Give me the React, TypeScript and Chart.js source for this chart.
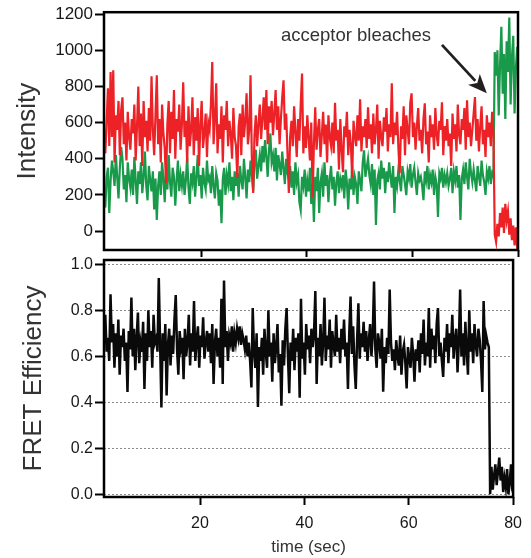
import React, { useEffect, useRef } from "react";
import { Chart, registerables } from "chart.js";

Chart.register(...registerables);

// Sampling of the recorded traces
const T0 = 1.6; // time of first frame (sec)
const DT = 0.25; // frame interval (sec)

// Acceptor (red) intensity per frame
const acceptorRed = [
  560, 430, 610, 790, 470, 880, 520, 890, 380, 640, 560, 720, 420, 670, 740, 480, 600, 390, 660, 520,
  450, 620, 540, 700, 390, 580, 800, 470, 650, 360, 720, 520, 610, 440, 680, 500, 856, 560, 420, 640,
  862, 480, 620, 380, 700, 540, 460, 265, 590, 720, 430, 660, 510, 780, 400, 620, 550, 700, 450, 590,
  823, 520, 610, 380, 690, 470, 560, 740, 420, 630, 500, 680, 360, 590, 720, 460, 540, 650, 410, 600,
  560, 700, 935, 480, 620, 818, 430, 590, 510, 690, 380, 640, 560, 720, 470, 610, 540, 400, 680, 520,
  470, 293, 580, 650, 420, 700, 520, 610, 762, 480, 560, 862, 400, 210, 530, 640, 470, 590, 700, 510,
  620, 740, 560, 780, 480, 690, 600, 720, 530, 650, 780, 560, 690, 480, 620, 740, 834, 560, 650, 430,
  210, 520, 610, 470, 690, 550, 410, 620, 500, 700, 872, 430, 580, 460, 640, 520, 390, 600, 188, 480,
  685, 450, 560, 620, 410, 530, 660, 480, 590, 380, 640, 520, 470, 600, 430, 710, 500, 560, 340, 620,
  450, 326, 580, 520, 660, 420, 560, 480, 298, 610, 530, 470, 640, 500, 729, 440, 580, 520, 620, 460,
  685, 510, 590, 430, 650, 480, 560, 700, 400, 610, 520, 470, 630, 550, 680, 440, 590, 520, 818, 480,
  600, 530, 660, 460, 320, 580, 510, 690, 420, 640, 560, 480, 710, 762, 520, 600, 450, 580, 680, 500,
  560, 430, 620, 707, 480, 550, 380, 640, 520, 590, 450, 680, 530, 470, 610, 560, 713, 420, 580, 500,
  620, 470, 540, 360, 650, 510, 590, 440, 700, 530, 480, 620, 560, 680, 450, 724, 520, 600, 470, 560,
  650, 741, 500, 620, 440, 580, 690, 480, 560, 410, 640, 520, 600, 470, 660, 541,
  -20, -60, 40, -30, 100, 20, 130, -10, 150, 60, 110, -20, 70, -50, 30, -80, 20, -90, -40,
];

// Donor (green) intensity per frame
const donorGreen = [
  210, 130, 300, 350, 100, 280, 390, 330, 250, 420, 300, 180, 350, 464, 400, 230, 310, 160, 380, 290,
  240, 340, 200, 410, 280, 150, 330, 260, 380, 210, 300, 440, 250, 170, 360, 280, 220, 330, 120, 290,
  61, 250, 330, 200, 380, 290, 160, 340, 230, 420, 270, 190, 350, 300, 140, 280, 390, 220, 310, 250,
  330, 200, 280, 410, 240, 150, 320, 270, 360, 190, 300, 420, 250, 310, 180, 350, 270, 230, 390, 280,
  300, 210, 360, 250, 180, 320, 280, 140, 230, 43, 290, 350, 200, 310, 260, 380, 220, 300, 170, 330,
  250, 320, 190, 360, 280, 230, 400, 300, 180, 340, 270, 390, 310, 220, 380, 450, 290, 360, 420, 330,
  470, 380, 503, 410, 300, 450, 540, 380, 420, 330, 460, 280, 420, 370, 310, 440, 350, 260, 400, 320,
  290, 360, 240, 330, 200, 380, 270, 310, 160, 116, 300, 250, 340, 190, 280, 220, 350, 150, 260, 50,
  300, 220, 350, 100, 270, 320, 190, 380, 250, 310, 160, 290, 360, 230, 300, 140, 270, 330, 210, 290,
  250, 310, 180, 340, 270, 120, 290, 230, 360, 200, 300, 260, 150, 330, 280, 220, 380, 447, 300, 350,
  400, 310, 260, 370, 200, 340, 33, 280, 320, 230, 390, 290, 350, 210, 330, 270, 380, 300, 240, 360,
  100, 300, 250, 340, 280, 220, 360, 310, 260, 199, 330, 290, 370, 240, 310, 350, 270, 200, 320, 280,
  300, 250, 171, 330, 280, 360, 230, 310, 270, 340, 200, 300, 260, 78, 320, 290, 350, 240, 310, 270,
  320, 250, 290, 350, 210, 330, 280, 360, 240, 310, 61, 290, 340, 260, 380, 300, 230, 400, 320, 270,
  340, 280, 220, 360, 300, 250, 390, 310, 270, 200, 330, 290, 360, 260, 320, 300,
  990, 860, 1000, 640, 920, 1130, 760, 980, 620, 1050, 880, 1182, 700, 960, 1080, 650, 900, 1020, 920,
];

// FRET efficiency per frame
const fretEfficiency = [
  0.72, 0.78, 0.62, 0.68, 0.58, 0.87, 0.66, 0.74, 0.55, 0.70, 0.60, 0.76, 0.52, 0.69, 0.64, 0.72, 0.58, 0.66, 0.445, 0.71,
  0.63, 0.855, 0.60, 0.72, 0.54, 0.68, 0.79, 0.57, 0.66, 0.62, 0.75, 0.458, 0.70, 0.58, 0.80, 0.64, 0.71, 0.55, 0.78, 0.66,
  0.68, 0.62, 0.94, 0.66, 0.377, 0.70, 0.58, 0.74, 0.43, 0.65, 0.72, 0.56, 0.69, 0.61, 0.76, 0.866, 0.63, 0.52, 0.71, 0.64,
  0.68, 0.50, 0.72, 0.60, 0.66, 0.78, 0.56, 0.70, 0.62, 0.84, 0.58, 0.67, 0.73, 0.55, 0.69, 0.64, 0.77, 0.59, 0.66, 0.71,
  0.62, 0.70, 0.57, 0.74, 0.48, 0.66, 0.72, 0.60, 0.68, 0.55, 0.85, 0.48, 0.93, 0.64, 0.71, 0.58, 0.69, 0.66, 0.73, 0.62,
  0.70, 0.66, 0.72, 0.68, 0.73, 0.65, 0.70, 0.67, 0.63, 0.69, 0.60, 0.66, 0.58, 0.465, 0.81, 0.62, 0.55, 0.70, 0.38, 0.64,
  0.58, 0.68, 0.52, 0.72, 0.62, 0.55, 0.80, 0.60, 0.66, 0.49, 0.70, 0.57, 0.64, 0.74, 0.53, 0.61, 0.385, 0.67, 0.56, 0.72,
  0.81, 0.60, 0.44, 0.66, 0.58, 0.72, 0.54, 0.68, 0.62, 0.70, 0.42, 0.85, 0.59, 0.66, 0.52, 0.74, 0.63, 0.69, 0.57, 0.72,
  0.64, 0.70, 0.884, 0.48, 0.68, 0.60, 0.74, 0.56, 0.66, 0.855, 0.58, 0.69, 0.63, 0.76, 0.55, 0.71, 0.65, 0.60, 0.78, 0.62,
  0.68, 0.57, 0.72, 0.63, 0.76, 0.60, 0.66, 0.458, 0.70, 0.86, 0.61, 0.73, 0.56, 0.458, 0.67, 0.83, 0.59, 0.70, 0.64, 0.75,
  0.62, 0.71, 0.58, 0.67, 0.74, 0.60, 0.69, 0.925, 0.63, 0.55, 0.70, 0.66, 0.59, 0.72, 0.446, 0.64, 0.57, 0.68, 0.61, 0.89,
  0.66, 0.58, 0.63, 0.54, 0.67, 0.60, 0.56, 0.69, 0.52, 0.62, 0.65, 0.57, 0.46, 0.64, 0.59, 0.55, 0.68, 0.61, 0.49, 0.63,
  0.58, 0.67, 0.53, 0.70, 0.61, 0.76, 0.56, 0.66, 0.60, 0.81, 0.55, 0.72, 0.63, 0.69, 0.57, 0.74, 0.81, 0.60, 0.66, 0.58,
  0.51, 0.68, 0.62, 0.74, 0.57, 0.70, 0.64, 0.78, 0.59, 0.67, 0.72, 0.53, 0.66, 0.89, 0.60, 0.70, 0.56, 0.75, 0.63, 0.52,
  0.80, 0.62, 0.70, 0.57, 0.74, 0.65, 0.60, 0.72, 0.67, 0.58, 0.445, 0.84, 0.63, 0.69, 0.66, 0.64,
  0.00, 0.12, 0.02, 0.08, 0.13, 0.04, 0.10, 0.16, 0.06, 0.12, 0.01, 0.07, 0.03, 0.11, 0.00, 0.05, 0.13, 0.02, 0.00,
];

const timeTicks = [20, 40, 60, 80];
const intensityTicks = [0, 200, 400, 600, 800, 1000, 1200];
const fretTicks = [0, 0.2, 0.4, 0.6, 0.8, 1.0];

const annotationText = "acceptor bleaches";
const annotationTextAt = [35.1, 1050]; // (time, intensity) of text start
const arrowFrom = [65.6, 1030];
const arrowTo = [74.1, 762];

const FONT = "'Liberation Sans', Arial, Helvetica, sans-serif";
const INK = "#1a1718";
const RED = "#ec2227";
const GREEN = "#189a4a";

const toPoints = (arr: number[]) => arr.map((v, i) => ({ x: T0 + i * DT, y: v }));

const framePlugin = {
  id: "frame",
  afterDatasetsDraw(chart: any) {
    const { ctx, chartArea: a } = chart;
    ctx.save();
    ctx.strokeStyle = "#000";
    ctx.lineWidth = 2.5;
    ctx.strokeRect(a.left, a.top, a.right - a.left, a.bottom - a.top);
    ctx.restore();
  },
};

const annotationPlugin = {
  id: "annot",
  afterDraw(chart: any) {
    const { ctx } = chart;
    const xs = chart.scales.x;
    const ys = chart.scales.y;
    ctx.save();
    ctx.font = `18.5px ${FONT}`;
    ctx.fillStyle = "#333";
    ctx.textAlign = "left";
    ctx.textBaseline = "alphabetic";
    ctx.fillText(annotationText, xs.getPixelForValue(annotationTextAt[0]), ys.getPixelForValue(annotationTextAt[1]));
    const x1 = xs.getPixelForValue(arrowFrom[0]);
    const y1 = ys.getPixelForValue(arrowFrom[1]);
    const x2 = xs.getPixelForValue(arrowTo[0]);
    const y2 = ys.getPixelForValue(arrowTo[1]);
    const ang = Math.atan2(y2 - y1, x2 - x1);
    const headLen = 19;
    const headHalf = 8;
    const bx = x2 - headLen * Math.cos(ang);
    const by = y2 - headLen * Math.sin(ang);
    ctx.strokeStyle = "#231f20";
    ctx.fillStyle = "#231f20";
    ctx.lineWidth = 2.8;
    ctx.beginPath();
    ctx.moveTo(x1, y1);
    ctx.lineTo(bx + 2 * Math.cos(ang), by + 2 * Math.sin(ang));
    ctx.stroke();
    ctx.beginPath();
    ctx.moveTo(x2, y2);
    ctx.lineTo(bx + headHalf * Math.sin(ang), by - headHalf * Math.cos(ang));
    ctx.lineTo(bx + 5 * Math.cos(ang), by + 5 * Math.sin(ang));
    ctx.lineTo(bx - headHalf * Math.sin(ang), by + headHalf * Math.cos(ang));
    ctx.closePath();
    ctx.fill();
    ctx.restore();
  },
};

const setTicks = (vals: number[]) => (scale: any) => {
  scale.ticks = vals.map((v) => ({ value: v }));
};

export default function App() {
  const topRef = useRef<HTMLCanvasElement>(null);
  const botRef = useRef<HTMLCanvasElement>(null);

  useEffect(() => {
    const top = new Chart(topRef.current as HTMLCanvasElement, {
      type: "line",
      data: {
        datasets: [
          {
            data: toPoints(acceptorRed),
            borderColor: RED,
            borderWidth: 2.2,
            pointRadius: 0,
            tension: 0,
          },
          {
            data: toPoints(donorGreen),
            borderColor: GREEN,
            borderWidth: 2.2,
            pointRadius: 0,
            tension: 0,
          },
        ],
      },
      options: {
        animation: false,
        responsive: false,
        layout: { padding: { left: 0, right: 13, top: 12, bottom: 0 } },
        plugins: { legend: { display: false }, tooltip: { enabled: false } },
        scales: {
          x: {
            type: "linear",
            position: "bottom",
            min: 1.6,
            max: 80,
            afterBuildTicks: setTicks(timeTicks),
            afterFit: (s: any) => {
              s.height = 308;
            },
            ticks: { display: false },
            grid: {
              drawOnChartArea: false,
              drawTicks: true,
              tickLength: 7,
              tickWidth: 2,
              tickColor: "#000",
            },
            border: { display: false },
          },
          y: {
            type: "linear",
            min: -105,
            max: 1211,
            afterBuildTicks: setTicks(intensityTicks),
            afterFit: (s: any) => {
              s.width = 104;
            },
            ticks: {
              font: { family: FONT, size: 17 },
              color: INK,
              padding: 2,
              callback: (v: any) => String(v),
            },
            grid: {
              drawOnChartArea: false,
              drawTicks: true,
              tickLength: 9,
              tickWidth: 2,
              tickColor: "#000",
            },
            border: { display: false },
            title: {
              display: true,
              text: "Intensity",
              font: { family: FONT, size: 26 },
              color: "#333",
              padding: { top: 12, bottom: 0 },
            },
          },
        },
      },
      plugins: [framePlugin, annotationPlugin],
    } as any);

    const bot = new Chart(botRef.current as HTMLCanvasElement, {
      type: "line",
      data: {
        datasets: [
          {
            data: toPoints(fretEfficiency),
            borderColor: "#0a0a0a",
            borderWidth: 2.5,
            pointRadius: 0,
            tension: 0,
          },
        ],
      },
      options: {
        animation: false,
        responsive: false,
        layout: { padding: { left: 0, right: 13, top: 260, bottom: 0 } },
        plugins: { legend: { display: false }, tooltip: { enabled: false } },
        scales: {
          x: {
            type: "linear",
            position: "bottom",
            min: 1.6,
            max: 80,
            afterBuildTicks: setTicks(timeTicks),
            afterFit: (s: any) => {
              s.height = 61;
            },
            ticks: {
              font: { family: FONT, size: 16 },
              color: INK,
              padding: 9,
              callback: (v: any) => String(v),
            },
            grid: {
              drawOnChartArea: false,
              drawTicks: true,
              tickLength: 8,
              tickWidth: 2,
              tickColor: "#000",
            },
            border: { display: false },
            title: {
              display: true,
              text: "time (sec)",
              font: { family: FONT, size: 17 },
              color: "#333",
              padding: { top: 0, bottom: 0 },
            },
          },
          y: {
            type: "linear",
            min: -0.0117,
            max: 1.0187,
            afterBuildTicks: setTicks(fretTicks),
            afterFit: (s: any) => {
              s.width = 104;
            },
            ticks: {
              font: { family: FONT, size: 16 },
              color: INK,
              padding: 2,
              callback: (v: any) => Number(v).toFixed(1),
            },
            grid: {
              drawOnChartArea: true,
              color: "#8a8a8a",
              lineWidth: 1,
              drawTicks: true,
              tickLength: 9,
              tickWidth: 2,
              tickColor: "#000",
            },
            border: { display: false, dash: [2, 2] },
            title: {
              display: true,
              text: "FRET Efficiency",
              font: { family: FONT, size: 26 },
              color: "#333",
              padding: { top: 18, bottom: 0 },
            },
          },
        },
      },
      plugins: [framePlugin],
    } as any);

    return () => {
      top.destroy();
      bot.destroy();
    };
  }, []);

  return (
    <div style={{ position: "absolute", left: 0, top: 0, width: 531, height: 558, background: "#fff" }}>
      <canvas ref={topRef} width={531} height={558} style={{ position: "absolute", left: 0, top: 0 }} />
      <canvas ref={botRef} width={531} height={558} style={{ position: "absolute", left: 0, top: 0 }} />
    </div>
  );
}
